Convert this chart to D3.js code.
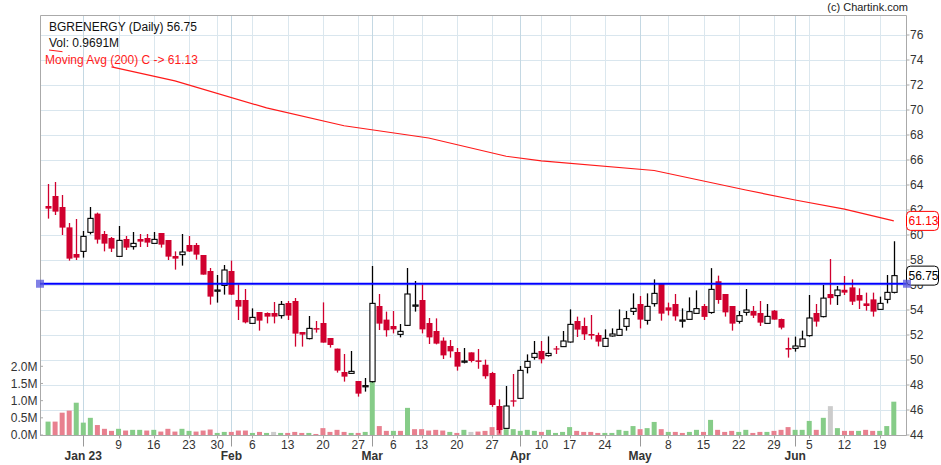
<!DOCTYPE html>
<html><head><meta charset="utf-8">
<script src="https://cdn.jsdelivr.net/npm/d3@7"></script>
<style>body{margin:0;background:#fff}svg{display:block;font-family:"Liberation Sans",Arial,sans-serif}</style>
</head><body><svg id="c" width="941" height="465"></svg>
<script>
// ---------- DATA ----------
const dates = [
"2022-12-26","2022-12-27","2022-12-28","2022-12-29","2022-12-30",
"2023-01-02","2023-01-03","2023-01-04","2023-01-05","2023-01-06",
"2023-01-09","2023-01-10","2023-01-11","2023-01-12","2023-01-13",
"2023-01-16","2023-01-17","2023-01-18","2023-01-19","2023-01-20",
"2023-01-23","2023-01-24","2023-01-25","2023-01-27","2023-01-30","2023-01-31",
"2023-02-01","2023-02-02","2023-02-03",
"2023-02-06","2023-02-07","2023-02-08","2023-02-09","2023-02-10",
"2023-02-13","2023-02-14","2023-02-15","2023-02-16","2023-02-17",
"2023-02-20","2023-02-21","2023-02-22","2023-02-23","2023-02-24",
"2023-02-27","2023-02-28",
"2023-03-01","2023-03-02","2023-03-03",
"2023-03-06","2023-03-08","2023-03-09","2023-03-10",
"2023-03-13","2023-03-14","2023-03-15","2023-03-16","2023-03-17",
"2023-03-20","2023-03-21","2023-03-22","2023-03-23","2023-03-24",
"2023-03-27","2023-03-28","2023-03-29","2023-03-31",
"2023-04-03","2023-04-05","2023-04-06",
"2023-04-10","2023-04-11","2023-04-12","2023-04-13",
"2023-04-17","2023-04-18","2023-04-19","2023-04-20","2023-04-21",
"2023-04-24","2023-04-25","2023-04-26","2023-04-27","2023-04-28",
"2023-05-02","2023-05-03","2023-05-04","2023-05-05",
"2023-05-08","2023-05-09","2023-05-10","2023-05-11","2023-05-12",
"2023-05-15","2023-05-16","2023-05-17","2023-05-18","2023-05-19",
"2023-05-22","2023-05-23","2023-05-24","2023-05-25","2023-05-26",
"2023-05-29","2023-05-30","2023-05-31",
"2023-06-01","2023-06-02",
"2023-06-05","2023-06-06","2023-06-07","2023-06-08","2023-06-09",
"2023-06-12","2023-06-13","2023-06-14","2023-06-15","2023-06-16",
"2023-06-19","2023-06-20","2023-06-21"];

const open = [62.32,63.12,62.24,60.61,58.48,58.69,60.21,61.71,60.08,59.76,
58.29,59.68,59.07,59.68,59.76,59.33,60.16,59.60,58.32,58.43,
59.20,59.20,58.40,57.12,55.55,55.97,57.12,54.80,54.80,52.93,
53.84,53.76,53.76,53.55,54.56,54.72,52.24,51.71,52.55,52.96,
51.76,50.91,49.04,48.93,48.32,47.90,48.27,54.32,53.23,52.72,
52.05,52.77,54.37,54.80,52.96,52.32,51.55,51.12,50.64,49.88,
50.61,49.97,49.62,48.96,46.32,44.53,46.77,46.93,49.41,50.21,
50.72,50.35,50.93,51.07,51.44,53.12,52.72,52.08,52.00,51.09,
51.92,51.97,52.69,53.89,54.48,53.17,54.51,56.08,54.21,54.48,
53.15,53.25,53.73,54.32,53.80,56.30,55.28,54.32,53.09,53.81,
53.92,53.76,52.93,53.95,53.28,50.96,50.93,51.07,51.95,53.76,
53.47,55.28,55.15,55.62,55.81,55.20,54.53,54.85,54.05,54.85,55.41];

const high = [64.08,64.24,63.20,60.96,61.28,60.32,62.24,61.79,60.32,59.84,
60.72,59.92,60.24,60.08,60.08,60.24,60.16,59.60,58.69,60.08,
59.92,59.36,58.40,57.36,56.80,57.60,57.95,56.05,55.68,54.13,
53.84,53.81,54.64,54.72,54.72,54.96,52.24,53.52,53.12,54.61,
51.76,50.91,50.48,50.72,48.32,48.56,57.52,55.28,53.87,53.92,
52.88,57.36,56.32,56.03,53.36,53.33,51.81,51.60,50.96,50.96,
50.61,50.88,50.03,49.05,46.85,47.92,48.88,49.52,50.45,51.52,
51.52,51.89,51.12,52.32,54.05,53.47,53.39,53.60,52.19,52.45,
52.53,54.05,53.92,55.33,55.12,55.33,56.45,56.13,54.59,55.28,
54.13,55.01,55.57,54.48,57.35,56.75,55.28,54.32,53.92,55.68,
54.32,54.72,54.48,54.00,53.31,51.79,51.87,52.35,55.20,54.48,
56.00,58.08,55.92,56.72,56.45,55.73,55.39,55.39,55.07,56.80,59.50];

const low = [61.31,61.60,60.00,57.95,58.00,58.19,60.05,59.31,58.69,58.64,
58.29,58.80,58.83,59.04,59.04,59.31,58.99,58.00,57.23,57.55,
58.64,58.03,56.83,54.43,54.59,55.23,55.20,53.20,52.93,52.88,
52.35,52.93,52.93,53.31,53.20,51.07,51.07,51.65,52.19,51.39,
50.99,48.99,48.27,48.91,47.07,47.47,48.20,52.40,51.87,52.13,
51.81,52.72,53.87,52.13,51.28,51.25,50.08,50.19,49.15,49.73,
49.81,49.30,48.50,46.25,44.13,44.53,46.27,46.93,48.93,50.03,
49.73,50.27,50.48,51.07,51.39,51.84,51.60,51.65,51.09,51.07,
51.87,51.95,52.35,53.60,52.53,52.83,54.27,53.15,53.57,53.15,
52.59,53.25,53.73,53.20,53.70,54.50,53.47,52.35,52.91,53.55,
53.36,52.72,52.93,53.23,52.45,50.19,50.67,51.07,51.87,52.67,
53.41,54.43,54.40,55.20,54.40,54.08,53.95,53.47,54.00,54.53,55.33];

const close = [62.11,61.87,60.59,58.11,58.19,59.89,61.33,59.63,59.31,58.91,
59.57,58.99,59.33,59.47,59.39,59.65,59.23,58.27,58.11,58.64,
58.68,58.43,56.83,55.07,55.60,57.20,55.23,54.27,53.01,53.41,
53.15,53.47,53.47,54.45,53.55,52.11,52.03,52.53,52.43,51.39,
51.20,49.15,48.67,49.09,47.31,47.95,54.53,52.91,52.38,52.45,
52.29,55.28,54.40,52.45,51.81,51.31,50.37,50.69,49.47,49.92,
49.92,49.85,48.70,46.40,44.40,46.32,46.67,49.17,49.89,50.53,
50.05,50.53,50.85,51.52,52.85,52.43,52.05,51.95,51.47,51.73,
52.08,52.45,53.31,54.13,53.23,54.29,55.33,53.71,53.95,53.49,
53.20,53.87,54.11,53.45,55.65,54.80,53.81,52.91,53.55,54.00,
53.55,52.99,53.49,53.23,52.59,50.83,51.12,51.68,53.36,53.07,
54.95,54.95,55.60,55.39,54.67,54.75,54.32,53.87,54.53,55.41,56.75];

// volume in millions
const volume = [0.39,0.39,0.65,0.71,0.94,0.36,0.50,0.29,0.18,0.12,
0.18,0.13,0.15,0.15,0.13,0.15,0.10,0.18,0.10,0.18,
0.12,0.10,0.13,0.16,0.06,0.09,0.09,0.13,0.13,0.06,
0.09,0.06,0.09,0.06,0.06,0.09,0.06,0.06,0.03,0.20,
0.09,0.15,0.09,0.06,0.06,0.09,1.55,0.26,0.12,0.12,
0.12,0.79,0.17,0.17,0.13,0.15,0.13,0.09,0.06,0.15,
0.09,0.10,0.12,0.23,0.17,0.17,0.17,0.12,0.15,0.12,
0.09,0.15,0.06,0.09,0.23,0.12,0.09,0.09,0.06,0.06,
0.06,0.15,0.12,0.26,0.17,0.20,0.38,0.17,0.09,0.09,
0.06,0.09,0.15,0.09,0.44,0.15,0.09,0.12,0.09,0.15,
0.06,0.09,0.09,0.12,0.15,0.23,0.15,0.15,0.41,0.15,
0.50,0.84,0.20,0.12,0.12,0.12,0.15,0.12,0.12,0.26,0.97];
const prevClose = 61.5;

const maDates = ["2023-01-06","2023-01-19","2023-02-08","2023-02-23","2023-03-14","2023-03-29",
"2023-04-10","2023-05-04","2023-05-23","2023-06-01","2023-06-12","2023-06-21"];
const maValues = [73.45,72.33,70.17,68.74,67.76,66.30,65.93,65.16,63.60,62.80,62.07,61.13];

const levelValue = 56.1;
const priceTicks = [44,46,48,50,52,54,56,58,60,62,64,66,68,70,72,74,76];
const volTicks = [0,0.5,1.0,1.5,2.0];
const weekTicks = ["2023-01-09","2023-01-16","2023-01-23","2023-01-30","2023-02-06","2023-02-13",
"2023-02-20","2023-02-27","2023-03-06","2023-03-13","2023-03-20","2023-03-27","2023-04-10",
"2023-04-17","2023-04-24","2023-05-08","2023-05-15","2023-05-22","2023-05-29","2023-06-05",
"2023-06-12","2023-06-19"];
const weekLabels = ["9","16","23","30","6","13","20","27","6","13","20","27","10","17","24","8","15","22","29","5","12","19"];
const monthTicks = ["2023-01-02","2023-02-01","2023-03-01","2023-04-03","2023-05-02","2023-06-01"];
const monthLabels = ["Jan 23","Feb","Mar","Apr","May","Jun"];

const titleText = "BGRENERGY (Daily) 56.75";
const volText = "Vol: 0.9691M";
const maText = "Moving Avg (200) C -> 61.13";

// ---------- DRAW ----------
const svg = d3.select("#c");
const L = 40, T = 15, R = 906.5, B = 435.5;
const x = d3.scalePoint().domain(dates).range([48.06, 893.8]);
const y = d3.scaleLinear().domain([44, 76]).range([435, 35]);
const yv = d3.scaleLinear().domain([0, 2]).range([435, 366.3]);

const RED = "#d0002e", GREEN = "#86cc88", PINK = "#e8808f", GRAY = "#cccccc";

// grid
const g = svg.append("g");
g.selectAll("line.h").data(priceTicks).join("line")
  .attr("x1", L).attr("x2", R).attr("y1", d => Math.round(y(d))+0.5).attr("y2", d => Math.round(y(d))+0.5)
  .attr("stroke", "#d9e6ee").attr("stroke-width", 1);
g.selectAll("line.w").data(weekTicks).join("line")
  .attr("x1", d => Math.round(x(d))+0.5).attr("x2", d => Math.round(x(d))+0.5).attr("y1", T).attr("y2", B)
  .attr("stroke", "#dbe7ee").attr("stroke-width", 1);
g.selectAll("line.m").data(monthTicks).join("line")
  .attr("x1", d => Math.round(x(d))+0.5).attr("x2", d => Math.round(x(d))+0.5).attr("y1", T).attr("y2", B)
  .attr("stroke", "#c4d8e3").attr("stroke-width", 1);

// frame
svg.append("path").attr("d", `M${L+0.5},${B} V${T+0.5} H${R} V${B} H${L}`)
  .attr("fill", "none").attr("stroke", "#aaaaaa").attr("stroke-width", 1);

// volume
const volColor = i => {
  const pc = i === 0 ? prevClose : close[i-1];
  return close[i] > pc ? GREEN : close[i] < pc ? PINK : GRAY;
};
svg.append("g").selectAll("rect").data(dates).join("rect")
  .attr("x", d => x(d) - 2.5).attr("width", 5)
  .attr("y", (d, i) => yv(volume[i])).attr("height", (d, i) => yv(0) - yv(volume[i]))
  .attr("fill", (d, i) => volColor(i));

// moving average
const line = d3.line().x(d => x(d[0])).y(d => y(d[1]));
svg.append("path").datum(maDates.map((d, i) => [d, maValues[i]]))
  .attr("d", line).attr("fill", "none").attr("stroke", "#ff1a1a").attr("stroke-width", 1.2);

// candles
const cg = svg.append("g");
dates.forEach((d, i) => {
  const up = close[i] >= open[i];
  const cx = Math.round(x(d)) + 0.5;
  const col = up ? "#000" : RED;
  cg.append("line").attr("x1", cx).attr("x2", cx).attr("y1", y(high[i])).attr("y2", y(low[i]))
    .attr("stroke", col).attr("stroke-width", 1.3);
  const top = y(Math.max(open[i], close[i])), bot = y(Math.min(open[i], close[i]));
  const h = Math.max(1.2, bot - top);
  if (up) {
    cg.append("rect").attr("x", cx - 2.6).attr("y", top).attr("width", 5.2).attr("height", h)
      .attr("fill", "#fff").attr("stroke", "#000").attr("stroke-width", 1.1);
  } else {
    cg.append("rect").attr("x", cx - 3).attr("y", top).attr("width", 6).attr("height", h)
      .attr("fill", RED);
  }
});

// horizontal level line
svg.append("line").attr("x1", L).attr("x2", R).attr("y1", y(levelValue)).attr("y2", y(levelValue))
  .attr("stroke", "#0000ff").attr("stroke-width", 2);

// right axis labels
svg.append("g").selectAll("text").data(priceTicks).join("text")
  .attr("x", 910).attr("y", d => y(d)).attr("dy", "0.35em")
  .attr("font-size", 12).attr("fill", "#333").text(d => d);
svg.append("g").selectAll("line").data(priceTicks).join("line")
  .attr("x1", R).attr("x2", R + 3).attr("y1", d => y(d)).attr("y2", d => y(d))
  .attr("stroke", "#aaa");

// value boxes
function box(v, txt, col) {
  const cy = y(v);
  svg.append("rect").attr("x", 906.5).attr("y", cy - 9.5).attr("width", 32).attr("height", 19)
    .attr("rx", 4).attr("fill", "#fff").attr("stroke", col).attr("stroke-width", 1);
  svg.append("text").attr("x", 908.5).attr("y", cy).attr("dy", "0.35em")
    .attr("font-size", 12).attr("fill", col).text(txt);
}
box(maValues[maValues.length - 1], maValues[maValues.length - 1].toFixed(2), "#ff0000");
box(close[close.length - 1], close[close.length - 1].toFixed(2), "#000");

// level squares
svg.append("rect").attr("x", 36).attr("y", y(levelValue) - 4).attr("width", 8).attr("height", 8)
  .attr("fill", "#5555dd").attr("opacity", 0.75);
svg.append("rect").attr("x", 903).attr("y", y(levelValue) - 4).attr("width", 8).attr("height", 8)
  .attr("fill", "#5555dd").attr("opacity", 0.75);

// volume labels
svg.append("g").selectAll("text").data(volTicks).join("text")
  .attr("x", 37.5).attr("y", d => yv(d)).attr("dy", "0.35em").attr("text-anchor", "end")
  .attr("font-size", 12).attr("fill", "#333").text(d => d.toFixed(1) + "M");
svg.append("g").selectAll("line").data(volTicks).join("line")
  .attr("x1", L).attr("x2", L + 3).attr("y1", d => yv(d)).attr("y2", d => yv(d)).attr("stroke", "#aaa");

// x axis
svg.append("g").selectAll("text").data(weekTicks).join("text")
  .attr("x", d => x(d)).attr("y", 449).attr("text-anchor", "middle")
  .attr("font-size", 12).attr("fill", "#333").text((d, i) => weekLabels[i]);
svg.append("g").selectAll("line").data(weekTicks).join("line")
  .attr("x1", d => Math.round(x(d))+0.5).attr("x2", d => Math.round(x(d))+0.5).attr("y1", B).attr("y2", B + 3).attr("stroke", "#aaa");
svg.append("g").selectAll("line").data(monthTicks).join("line")
  .attr("x1", d => Math.round(x(d))+0.5).attr("x2", d => Math.round(x(d))+0.5).attr("y1", B).attr("y2", B + 11).attr("stroke", "#999");
svg.append("g").selectAll("text").data(monthTicks).join("text")
  .attr("x", d => x(d)).attr("y", 459.5).attr("text-anchor", "middle")
  .attr("font-size", 12).attr("font-weight", "bold").attr("fill", "#333").text((d, i) => monthLabels[i]);

// legend texts
svg.append("text").attr("x", 49).attr("y", 30.5).attr("font-size", 12).attr("fill", "#111").text(titleText);
svg.append("text").attr("x", 49).attr("y", 47).attr("font-size", 12).attr("fill", "#111").text(volText);
svg.append("line").attr("x1", 49).attr("y1", 50).attr("x2", 62.5).attr("y2", 51.7).attr("stroke", "#ff1a1a").attr("stroke-width", 1);
svg.append("text").attr("x", 45).attr("y", 63.5).attr("font-size", 12).attr("fill", "#ff1a1a").text(maText);
svg.append("text").attr("x", 908).attr("y", 11).attr("text-anchor", "end").attr("font-size", 11).attr("fill", "#222").text("(c) Chartink.com");
</script></body></html>
